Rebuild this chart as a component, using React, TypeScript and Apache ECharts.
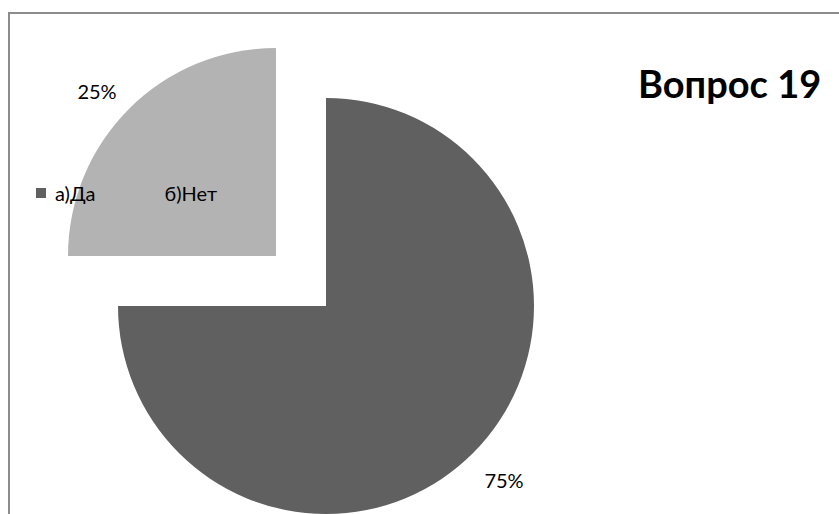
import React, { useEffect, useRef } from "react";
import * as echarts from "echarts";

const categories = ["а)Да", "б)Нет"];
const values = [75, 25];
const colors = ["#606060", "#b3b3b3"];
const titleText = "Вопрос 19";

const FONT = "Lato, 'Noto Sans', sans-serif";
// exploded pie: each slice drawn by its own pie series (same scale), shifted centres
const centers = [
  [326, 306],
  [276, 256],
];
const labelPos = [
  { x: 504, y: 480 },
  { x: 97, y: 91 },
];

export default function App() {
  const ref = useRef<HTMLDivElement>(null);
  useEffect(() => {
    if (!ref.current) return;
    const chart = echarts.init(ref.current, undefined, { renderer: "svg" });
    const total = values.reduce((a, b) => a + b, 0);
    const series = categories.map((_name, k) => ({
      type: "pie",
      center: centers[k],
      radius: 208,
      startAngle: 90,
      clockwise: true,
      avoidLabelOverlap: false,
      emphasis: { disabled: true },
      silent: true,
      z: 2 + k,
      label: {
        show: true,
        formatter: (p: any) => `${Math.round((p.value / total) * 100)}%`,
        fontFamily: FONT,
        fontSize: 20,
        color: "#000",
      },
      labelLine: { show: false },
      labelLayout: () => ({
        x: labelPos[k].x,
        y: labelPos[k].y,
        align: "center",
        verticalAlign: "middle",
      }),
      data: categories.map((n, i) =>
        i === k
          ? { name: n, value: values[i], itemStyle: { color: colors[i] } }
          : {
              name: "_gap" + k + "_" + i,
              value: values[i],
              itemStyle: { color: "rgba(0,0,0,0)" },
              label: { show: false },
            }
      ),
    }));
    chart.setOption({
      animation: false,
      backgroundColor: "#ffffff",
      title: {
        text: titleText,
        left: 633,
        top: 59,
        textStyle: { fontFamily: FONT, fontSize: 38, fontWeight: "bold", color: "#000" },
      },
      legend: {
        z: 10,
        left: 31,
        top: 178,
        orient: "horizontal",
        itemWidth: 10,
        itemHeight: 10,
        itemGap: 50,
        icon: "rect",
        selectedMode: false,
        data: categories.map((n, i) => ({ name: n, itemStyle: { color: colors[i] } })),
        textStyle: { fontFamily: FONT, fontSize: 20, color: "#000", padding: [0, 0, 0, 4] },
      },
      graphic: [
        {
          type: "rect",
          shape: { x: 9, y: 13, width: 900, height: 600 },
          style: { fill: "none", stroke: "#8c8c8c", lineWidth: 2 },
          z: 0,
          silent: true,
        },
      ],
      series,
    });
    return () => chart.dispose();
  }, []);
  return (
    <div
      ref={ref}
      style={{ position: "absolute", left: 0, top: 0, width: 839, height: 514 }}
    />
  );
}
